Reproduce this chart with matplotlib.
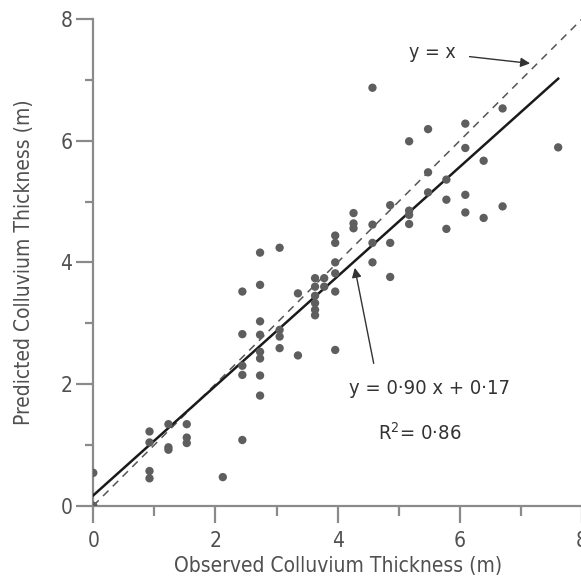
import matplotlib
matplotlib.use("Agg")
import matplotlib.pyplot as plt
import numpy as np
from matplotlib.ticker import MultipleLocator

plt.rcParams['font.family'] = ['DejaVu Sans']
plt.rcParams['font.stretch'] = 'condensed'

# Observed (x) and predicted (y) colluvium thickness
observed = [0.0, 0.0,
            0.92, 0.92, 0.92, 0.92,
            1.23, 1.23, 1.23,
            1.53, 1.53, 1.53,
            2.12,
            2.44, 2.44, 2.44, 2.44, 2.44,
            2.73, 2.73, 2.73, 2.73, 2.73, 2.73, 2.73, 2.73,
            3.05, 3.05, 3.05, 3.05,
            3.35, 3.35,
            3.63, 3.63, 3.63, 3.63, 3.63, 3.63,
            3.78, 3.78,
            3.96, 3.96, 3.96, 3.96, 3.96, 3.96,
            4.26, 4.26, 4.26,
            4.57, 4.57, 4.57, 4.57,
            4.86, 4.86, 4.86,
            5.17, 5.17, 5.17, 5.17,
            5.48, 5.48, 5.48,
            5.78, 5.78, 5.78,
            6.09, 6.09, 6.09, 6.09,
            6.39, 6.39,
            6.70, 6.70,
            7.61]
predicted = [0.54, 0.0,
             1.22, 1.04, 0.57, 0.45,
             1.34, 0.96, 0.92,
             1.34, 1.12, 1.03,
             0.47,
             3.52, 2.82, 2.30, 2.15, 1.08,
             4.16, 3.63, 3.03, 2.81, 2.53, 2.42, 2.14, 1.81,
             4.24, 2.89, 2.78, 2.59,
             3.49, 2.47,
             3.74, 3.60, 3.45, 3.33, 3.22, 3.13,
             3.74, 3.60,
             4.44, 4.32, 4.00, 3.82, 3.52, 2.56,
             4.81, 4.64, 4.56,
             6.87, 4.62, 4.32, 4.00,
             4.94, 4.32, 3.76,
             5.99, 4.85, 4.78, 4.63,
             6.19, 5.48, 5.15,
             5.36, 5.03, 4.55,
             6.28, 5.88, 5.11, 4.82,
             5.67, 4.73,
             6.53, 4.92,
             5.89]

slope, intercept = 0.90, 0.17
fit_range = [0.0, 7.61]
one_to_one = [0.0, 8.0]

xticks = [0, 2, 4, 6, 8]
yticks = [0, 2, 4, 6, 8]

W, H = 581, 586
fig = plt.figure(figsize=(W / 100, H / 100), dpi=100)
ax = fig.add_axes([93.3 / W, 80.3 / H, 488.7 / W, 486.7 / H])

axis_col = '#8a8a8a'
text_col = '#505050'

ax.plot(one_to_one, one_to_one, linestyle=(0, (5, 4)), color='#555555', lw=1.1, zorder=2)
fx = np.array(fit_range)
ax.plot(fx, slope * fx + intercept, color='#1a1a1a', lw=1.8, zorder=3)
ax.scatter(observed, predicted, s=36, color='#5e5e5e', edgecolors='none', zorder=4)

ax.set_xlim(0, 8)
ax.set_ylim(0, 8)
ax.set_xticks(xticks)
ax.set_yticks(yticks)
ax.xaxis.set_minor_locator(MultipleLocator(1))
ax.yaxis.set_minor_locator(MultipleLocator(1))

for s in ['top', 'right']:
    ax.spines[s].set_visible(False)
for s in ['left', 'bottom']:
    ax.spines[s].set_color(axis_col)
    ax.spines[s].set_linewidth(1.6)

ax.tick_params(axis='both', which='major', length=12, width=1.6, color=axis_col,
               labelsize=15, labelcolor=text_col)
ax.tick_params(axis='both', which='minor', length=6, width=1.6, color=axis_col)
ax.tick_params(axis='x', which='major', pad=6)
ax.tick_params(axis='x', which='minor', length=7)
ax.tick_params(axis='y', which='major', pad=3)

ax.set_xlabel('Observed Colluvium Thickness (m)', fontsize=15, color=text_col, labelpad=4)
ax.set_ylabel('Predicted Colluvium Thickness (m)', fontsize=15, color=text_col, labelpad=19)

ax.annotate('y = x', xy=(7.15, 7.27), xytext=(5.55, 7.45), fontsize=14, color='#333333',
            ha='center', va='center',
            arrowprops=dict(arrowstyle='-|>', color='#333333', lw=1.0, mutation_scale=14,
                            shrinkA=8, shrinkB=0))
ax.annotate('', xy=(4.28, 3.91), xytext=(4.59, 2.34),
            arrowprops=dict(arrowstyle='-|>', color='#333333', lw=1.0, mutation_scale=14,
                            shrinkA=0, shrinkB=0))
ax.text(5.50, 1.93, 'y = 0·90 x + 0·17', fontsize=14.5, color='#333333', ha='center', va='center')
ax.text(5.34, 1.20, 'R$^2$= 0·86', fontsize=14.5, color='#333333', ha='center', va='center')

fig.savefig('out.png', dpi=100)
